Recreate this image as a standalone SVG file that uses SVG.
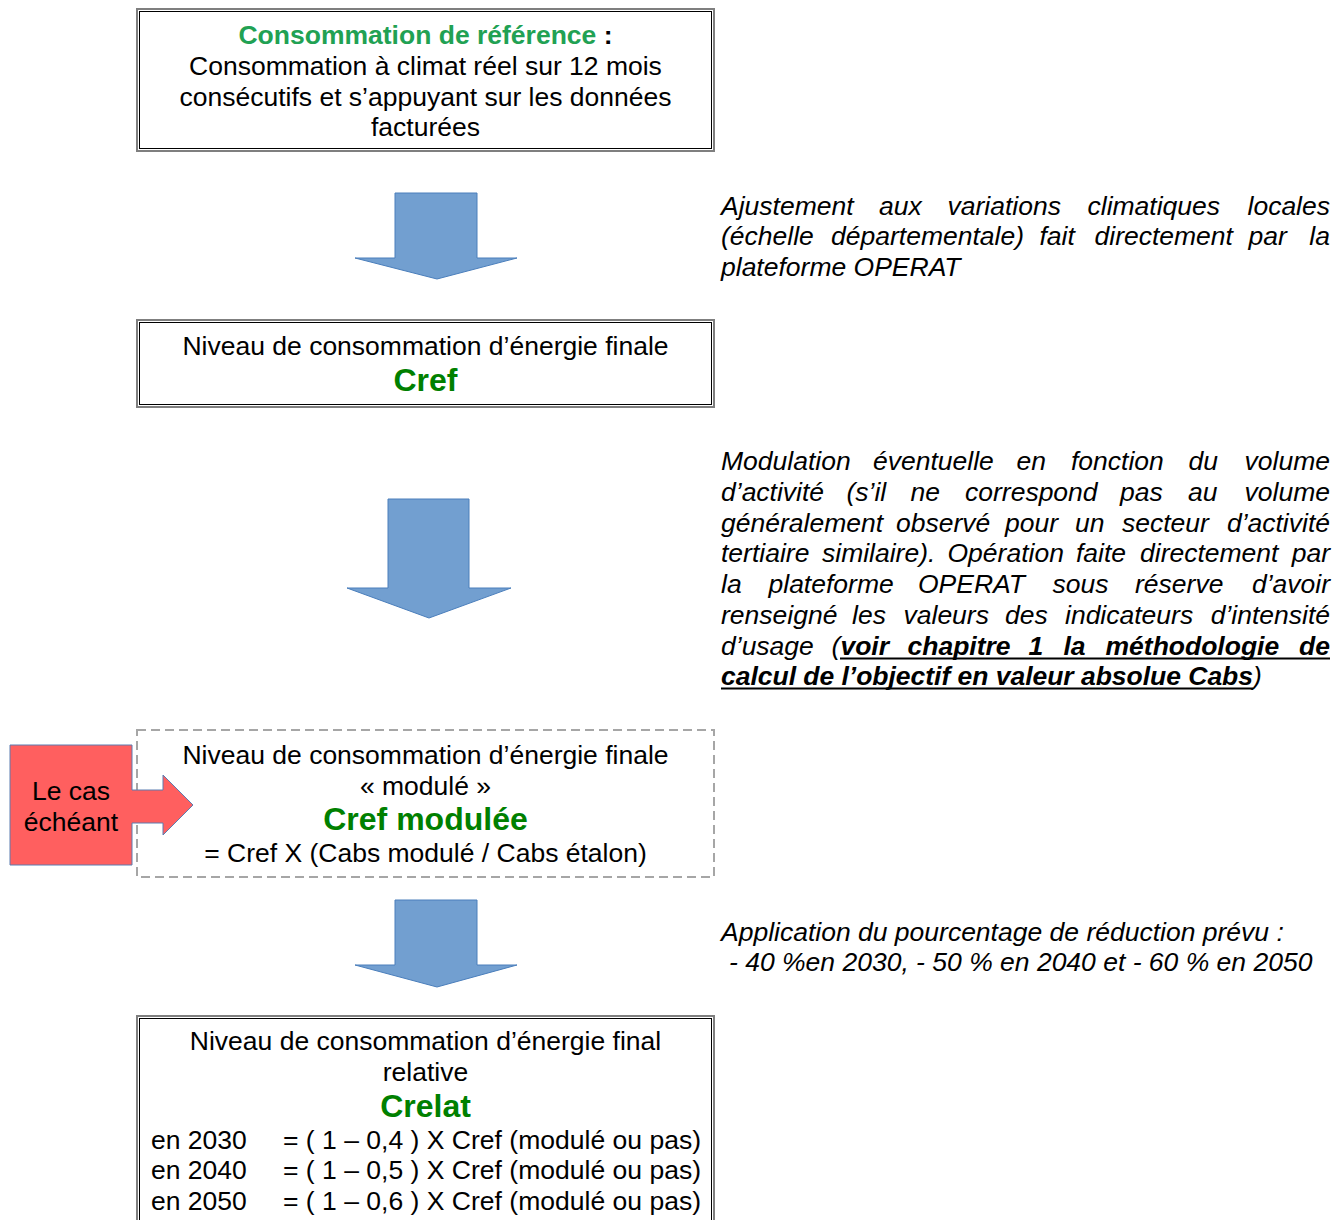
<svg xmlns="http://www.w3.org/2000/svg" width="1342" height="1220" viewBox="0 0 1342 1220">
<style>
text{font-family:"Liberation Sans",Arial,sans-serif;font-size:26.5px;fill:#000}
.c{text-anchor:middle}
.e{text-anchor:end}
.g1{fill:#21A153;font-weight:bold}
.g2{fill:#008000;font-weight:bold;font-size:32px}
.b{font-weight:bold}
.it{font-style:italic}
.outer{fill:#fff;stroke:#7f7f7f;stroke-width:2}
.inner{fill:none;stroke:#000;stroke-width:1}
.dash{fill:#fff;stroke:#a6a6a6;stroke-width:2;stroke-dasharray:9 5}
.arr{fill:#729FD0;stroke:#4A7EBB;stroke-width:1}
.ul{stroke:#000;stroke-width:2}
</style>
<rect width="1342" height="1220" fill="#fff"/>

<g id="node-reference">
<rect class="outer" x="137" y="9" width="577" height="142"/>
<rect class="inner" x="139.5" y="11.5" width="572" height="137"/>
<text class="c" x="425.5" y="44"><tspan class="g1">Consommation de référence</tspan><tspan class="b"> :</tspan></text>
<text class="c" x="425.5" y="75">Consommation à climat réel sur 12 mois</text>
<text class="c" x="425.5" y="106">consécutifs et s’appuyant sur les données</text>
<text class="c" x="425.5" y="136">facturées</text>
</g>

<g id="node-cref">
<rect class="outer" x="137" y="320" width="577" height="87"/>
<rect class="inner" x="139.5" y="322.5" width="572" height="82"/>
<text class="c" x="425.5" y="355">Niveau de consommation d’énergie finale</text>
<text class="c g2" x="425.5" y="391">Cref</text>
</g>

<g id="node-cref-modulee">
<rect class="dash" x="137" y="730" width="577" height="147"/>
<text class="c" x="425.5" y="764">Niveau de consommation d’énergie finale</text>
<text class="c" x="425.5" y="795">« modulé »</text>
<text class="c g2" x="425.5" y="830">Cref modulée</text>
<text class="c" x="425.5" y="862">= Cref X (Cabs modulé / Cabs étalon)</text>
</g>

<g id="node-le-cas">
<path d="M10,745 H132 V790 H163 V775 L193,805 L163,835 V823 H132 V865 H10 Z" fill="#FF5F5F" stroke="#5B7DB1" stroke-width="1"/>
<text class="c" x="71" y="800">Le cas</text>
<text class="c" x="71" y="831">échéant</text>
</g>

<g id="node-crelat">
<rect class="outer" x="137" y="1016" width="577" height="214"/>
<rect class="inner" x="139.5" y="1018.5" width="572" height="210"/>
<text class="c" x="425.5" y="1050">Niveau de consommation d’énergie final</text>
<text class="c" x="425.5" y="1081">relative</text>
<text class="c g2" x="425.5" y="1117">Crelat</text>
<text x="151" y="1149">en 2030</text>
<text x="283" y="1149" textLength="418" lengthAdjust="spacingAndGlyphs">= ( 1 – 0,4 ) X Cref (modulé ou pas)</text>
<text x="151" y="1179">en 2040</text>
<text x="283" y="1179" textLength="418" lengthAdjust="spacingAndGlyphs">= ( 1 – 0,5 ) X Cref (modulé ou pas)</text>
<text x="151" y="1210">en 2050</text>
<text x="283" y="1210" textLength="418" lengthAdjust="spacingAndGlyphs">= ( 1 – 0,6 ) X Cref (modulé ou pas)</text>
</g>

<g id="connectors">
<path class="arr" d="M395,193 H477 V258 H517 L437,279 L355,258 H395 Z"/>
<path class="arr" d="M388,499 H469 V588 H511 L429,618 L347,588 H388 Z"/>
<path class="arr" d="M395,900 H477 V965 H517 L437,987 L355,965 H395 Z"/>
</g>

<g id="note-ajustement">
<text class="it" y="215"><tspan x="721">Ajustement</tspan><tspan x="879">aux</tspan><tspan x="947.5">variations</tspan><tspan x="1087.5">climatiques</tspan><tspan class="e" x="1330">locales</tspan></text>
<text class="it" y="245"><tspan x="721">(échelle</tspan><tspan x="831">départementale)</tspan><tspan x="1039.5">fait</tspan><tspan x="1094.5">directement</tspan><tspan x="1248.5">par</tspan><tspan class="e" x="1330">la</tspan></text>
<text class="it" x="721" y="276">plateforme OPERAT</text>
</g>

<g id="note-modulation">
<text class="it" y="470"><tspan x="721">Modulation</tspan><tspan x="873">éventuelle</tspan><tspan x="1016.5">en</tspan><tspan x="1071">fonction</tspan><tspan x="1188.5">du</tspan><tspan class="e" x="1330">volume</tspan></text>
<text class="it" y="501"><tspan x="721">d’activité</tspan><tspan x="846.5">(s’il</tspan><tspan x="910.5">ne</tspan><tspan x="965">correspond</tspan><tspan x="1120">pas</tspan><tspan x="1188">au</tspan><tspan class="e" x="1330">volume</tspan></text>
<text class="it" y="532"><tspan x="721">généralement</tspan><tspan x="896">observé</tspan><tspan x="1005">pour</tspan><tspan x="1075">un</tspan><tspan x="1122">secteur</tspan><tspan class="e" x="1330">d’activité</tspan></text>
<text class="it" y="562"><tspan x="721">tertiaire</tspan><tspan x="822">similaire).</tspan><tspan x="947.5">Opération</tspan><tspan x="1076">faite</tspan><tspan x="1140">directement</tspan><tspan class="e" x="1330">par</tspan></text>
<text class="it" y="593"><tspan x="721">la</tspan><tspan x="768.5">plateforme</tspan><tspan x="918">OPERAT</tspan><tspan x="1052.5">sous</tspan><tspan x="1135">réserve</tspan><tspan class="e" x="1330">d’avoir</tspan></text>
<text class="it" y="624"><tspan x="721">renseigné</tspan><tspan x="852">les</tspan><tspan x="903.5">valeurs</tspan><tspan x="1005">des</tspan><tspan x="1065">indicateurs</tspan><tspan class="e" x="1330">d’intensité</tspan></text>
<text class="it" y="655"><tspan x="721">d’usage</tspan><tspan x="831.5">(</tspan><tspan class="b" x="840.4">voir</tspan><tspan class="b" x="907.5">chapitre</tspan><tspan class="b" x="1028.5">1</tspan><tspan class="b" x="1063.5">la</tspan><tspan class="b" x="1105.5">méthodologie</tspan><tspan class="b e" x="1330">de</tspan></text>
<line class="ul" x1="840" y1="658.5" x2="1330" y2="658.5"/>
<text class="it" x="721" y="685"><tspan class="b" textLength="532" lengthAdjust="spacing">calcul de l’objectif en valeur absolue Cabs</tspan><tspan>)</tspan></text>
<line class="ul" x1="721" y1="688.5" x2="1253" y2="688.5"/>
</g>

<g id="note-application">
<text class="it" x="721" y="941">Application du pourcentage de réduction prévu :</text>
<text class="it" x="729" y="971">- 40 %en 2030, - 50 % en 2040 et - 60 % en 2050</text>
</g>
</svg>
